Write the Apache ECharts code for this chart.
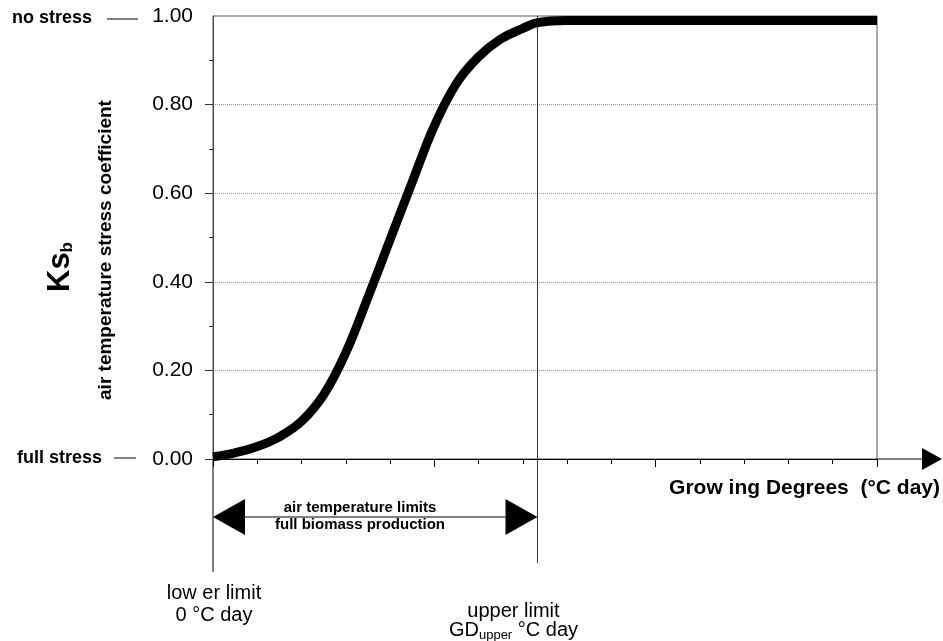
<!DOCTYPE html>
<html>
<head>
<meta charset="utf-8">
<script src="https://cdn.jsdelivr.net/npm/echarts@6/dist/echarts.min.js"></script>
<style>
  html, body { margin: 0; padding: 0; background: #fff; }
  #chart { width: 943px; height: 641px; }
</style>
</head>
<body>
<div id="chart"></div>
<script>
// Growing degrees (°C day) along the stress curve
const gdDays = [0, 0.5, 1, 1.5, 2, 2.5, 3, 3.5, 4, 4.5, 5, 5.5, 6, 6.5, 7, 7.33, 8, 15];
// Ks_b, air temperature stress coefficient at each growing-degree value
const ksValues = [0.005, 0.014, 0.028, 0.05, 0.085, 0.145, 0.24, 0.365, 0.495, 0.625, 0.752, 0.848, 0.908, 0.948, 0.972, 0.985, 0.99, 0.99];
// Limits of the full biomass production range (°C day)
const lowerLimit = 0;
const upperLimit = 7.33;
// Axis ranges and labelled ticks
const xMax = 15;
const yTickValues = [0, 0.2, 0.4, 0.6, 0.8];

const FONT = '"Liberation Sans", Arial, Helvetica, sans-serif';

const chart = echarts.init(document.getElementById('chart'), null, { renderer: 'canvas' });

chart.setOption({
  animation: false,
  backgroundColor: '#fff',
  grid: {
    left: 213, top: 16, right: 66, bottom: 182,
    show: true, borderColor: '#555', borderWidth: 1, backgroundColor: 'transparent'
  },
  xAxis: {
    type: 'value', min: 0, max: xMax, interval: 5,
    axisLine: { show: true, lineStyle: { color: '#000', width: 1 } },
    axisTick: { show: true, length: 8, lineStyle: { color: '#000' } },
    minorTick: { show: true, splitNumber: 5, length: 5, lineStyle: { color: '#000' } },
    axisLabel: { show: false },
    splitLine: { show: false }
  },
  yAxis: {
    type: 'value', min: 0, max: 1, interval: 0.2,
    axisLine: { show: true, lineStyle: { color: '#444', width: 1 } },
    axisTick: { show: true, length: 8, customValues: yTickValues, lineStyle: { color: '#333' } },
    minorTick: { show: true, splitNumber: 2, length: 4, lineStyle: { color: '#333' } },
    axisLabel: {
      margin: 20, color: '#000', fontFamily: FONT, fontSize: 21,
      formatter: v => v.toFixed(2)
    },
    splitLine: { show: true, lineStyle: { color: '#999', type: 'dotted', width: 1 } }
  },
  series: [
    {
      type: 'line',
      data: gdDays.map((g, i) => [g, ksValues[i]]),
      smooth: 0.4,
      showSymbol: false,
      lineStyle: { color: '#000', width: 9, cap: 'butt' },
      z: 4,
      silent: true
    },
    {
      // limit lines, range arrow and axis arrow
      type: 'custom',
      silent: true,
      clip: false,
      z: 3,
      data: [[lowerLimit, upperLimit]],
      renderItem: function (params, api) {
        const lo = api.coord([api.value(0), 0]);
        const hi = api.coord([api.value(1), 0]);
        const hiTop = api.coord([api.value(1), 1]);
        const end = api.coord([xMax, 0]);
        const ay = lo[1] + 58;
        const head = 32, half = 18;
        return {
          type: 'group',
          children: [
            { type: 'line', shape: { x1: lo[0], y1: lo[1], x2: lo[0], y2: lo[1] + 113 },
              style: { stroke: '#000', lineWidth: 1 } },
            { type: 'line', shape: { x1: hi[0], y1: hiTop[1], x2: hi[0], y2: hi[1] + 104 },
              style: { stroke: '#333', lineWidth: 1 } },
            { type: 'line', shape: { x1: lo[0] + head, y1: ay, x2: hi[0] - head, y2: ay },
              style: { stroke: '#000', lineWidth: 1 } },
            { type: 'polygon', shape: { points: [[lo[0], ay], [lo[0] + head, ay - half], [lo[0] + head, ay + half]] },
              style: { fill: '#000' } },
            { type: 'polygon', shape: { points: [[hi[0], ay], [hi[0] - head, ay - half], [hi[0] - head, ay + half]] },
              style: { fill: '#000' } },
            { type: 'line', shape: { x1: end[0], y1: end[1], x2: end[0] + 46, y2: end[1] },
              style: { stroke: '#000', lineWidth: 1 } },
            { type: 'polygon', shape: { points: [[end[0] + 45, end[1] - 11], [end[0] + 65, end[1]], [end[0] + 45, end[1] + 11]] },
              style: { fill: '#000' } }
          ]
        };
      }
    }
  ]
});

// Text annotations placed from the axis scales
const p1 = chart.convertToPixel({ gridIndex: 0 }, [0, 1]);
const p0 = chart.convertToPixel({ gridIndex: 0 }, [0, 0]);
const pLo = chart.convertToPixel({ gridIndex: 0 }, [lowerLimit, 0]);
const pHi = chart.convertToPixel({ gridIndex: 0 }, [upperLimit, 0]);
const pEnd = chart.convertToPixel({ gridIndex: 0 }, [xMax, 0]);

function txt(x, y, text, opts) {
  return {
    type: 'text', x: x, y: y, silent: true, z: 10,
    style: Object.assign({
      text: text, fill: '#000', fontFamily: FONT, fontSize: 14,
      align: 'center', verticalAlign: 'middle'
    }, opts || {})
  };
}

chart.setOption({
  graphic: [
    // stress level labels beside the y axis
    txt(92, p1[1] + 2, 'no stress', { align: 'right', fontSize: 18, fontWeight: 'bold' }),
    { type: 'line', silent: true, shape: { x1: 107, y1: p1[1] + 3, x2: 138, y2: p1[1] + 3 }, style: { stroke: '#000', lineWidth: 1 } },
    txt(102, p0[1] - 1, 'full stress', { align: 'right', fontSize: 18, fontWeight: 'bold' }),
    { type: 'line', silent: true, shape: { x1: 114, y1: p0[1] - 1, x2: 136, y2: p0[1] - 1 }, style: { stroke: '#000', lineWidth: 1 } },
    // y axis titles
    {
      type: 'text', x: 60, y: 267, rotation: Math.PI / 2, silent: true,
      style: {
        text: '{k|Ks}{b|b}', align: 'center', verticalAlign: 'middle',
        rich: {
          k: { fontFamily: FONT, fontSize: 31, fontWeight: 'bold', fill: '#000', lineHeight: 32, verticalAlign: 'bottom' },
          b: { fontFamily: FONT, fontSize: 17, fontWeight: 'bold', fill: '#000', lineHeight: 18, verticalAlign: 'bottom' }
        }
      }
    },
    Object.assign(txt(106, 250, 'air temperature stress coefficient', { fontSize: 19, fontWeight: 'bold' }), { rotation: Math.PI / 2 }),
    // x axis title
    txt(pEnd[0] + 63, p0[1] + 29, 'Grow ing Degrees  (°C day)', { align: 'right', fontSize: 21, fontWeight: 'bold' }),
    // range arrow captions
    txt(360, p0[1] + 49, 'air temperature limits', { fontSize: 15, fontWeight: 'bold' }),
    txt(360, p0[1] + 66, 'full biomass production', { fontSize: 15, fontWeight: 'bold' }),
    // limit captions
    txt(pLo[0] + 1, p0[1] + 134, 'low er limit', { fontSize: 20 }),
    txt(pLo[0] + 1, p0[1] + 156, '0 °C day', { fontSize: 20 }),
    txt(pHi[0] - 24, p0[1] + 152, 'upper limit', { fontSize: 20 }),
    {
      type: 'text', x: pHi[0] - 24, y: p0[1] + 171, silent: true,
      style: {
        text: '{n|GD}{s|upper}{n| °C day}', align: 'center', verticalAlign: 'middle',
        rich: {
          n: { fontFamily: FONT, fontSize: 20, fill: '#000', lineHeight: 24, verticalAlign: 'middle' },
          s: { fontFamily: FONT, fontSize: 13, fill: '#000', lineHeight: 15, verticalAlign: 'bottom' }
        }
      }
    }
  ]
});
</script>
</body>
</html>
